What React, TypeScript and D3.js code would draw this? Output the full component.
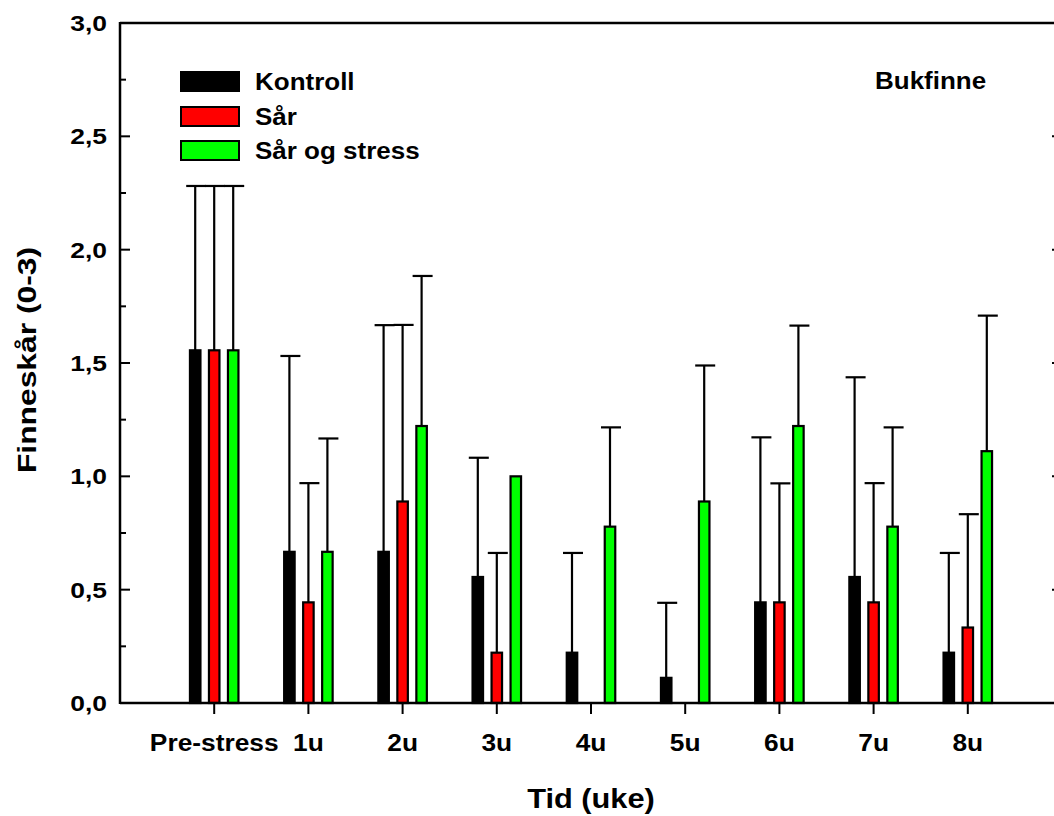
import React from "react";
import * as d3 from "d3";

// Fin score (0-3) for the pelvic fin over time, three treatment groups
const categories = ["Pre-stress", "1u", "2u", "3u", "4u", "5u", "6u", "7u", "8u"];
const seriesNames = ["Kontroll", "Sår", "Sår og stress"];

const kontroll = [1.556, 0.667, 0.667, 0.556, 0.222, 0.111, 0.444, 0.556, 0.222];
const kontrollSd = [0.725, 0.864, 1.0, 0.526, 0.44, 0.331, 0.728, 0.881, 0.44];

const sar = [1.556, 0.444, 0.889, 0.222, 0, 0, 0.444, 0.444, 0.333];
const sarSd = [0.725, 0.526, 0.779, 0.44, 0, 0, 0.525, 0.526, 0.5];

const sarStress = [1.556, 0.667, 1.222, 1.0, 0.778, 0.889, 1.222, 0.778, 1.111];
const sarStressSd = [0.725, 0.5, 0.662, 0, 0.438, 0.6, 0.443, 0.438, 0.598];

const yTicks = [0, 0.5, 1.0, 1.5, 2.0, 2.5, 3.0];
const yMinorTicks = [0.25, 0.75, 1.25, 1.75, 2.25, 2.75];

const panelLabel = "Bukfinne";
const xTitle = "Tid (uke)";
const yTitle = "Finneskår (0-3)";

const colors = ["#000000", "#ff0000", "#00ff00"];

const W = 1054;
const H = 816;
const left = 120;
const right = 1062;
const top = 23;
const bottom = 703;
const font = "'Liberation Sans', Arial, Helvetica, sans-serif";

export default function App() {
  const x = d3.scalePoint<string>().domain(categories).range([left, right]).padding(1);
  const y = d3.scaleLinear().domain([0, 3]).range([bottom, top]);
  const fmt = (v: number) => d3.format(".1f")(v).replace(".", ",");

  const series = [
    { name: seriesNames[0], values: kontroll, sd: kontrollSd, color: colors[0], offset: -19 },
    { name: seriesNames[1], values: sar, sd: sarSd, color: colors[1], offset: 0 },
    { name: seriesNames[2], values: sarStress, sd: sarStressSd, color: colors[2], offset: 19 },
  ];
  const barW = 10.5;
  const capW = 20;

  const stretched = (
    tx: number,
    ty: number,
    text: string,
    size: number,
    sx: number,
    anchor: "start" | "middle" | "end",
    rotate = 0
  ) => (
    <text
      transform={`translate(${tx},${ty}) rotate(${rotate}) scale(${sx},1)`}
      fontFamily={font}
      fontWeight="bold"
      fontSize={size}
      textAnchor={anchor}
      fill="#000"
    >
      {text}
    </text>
  );

  return (
    <svg
      width={W}
      height={H}
      style={{ position: "absolute", left: 0, top: 0, background: "#fff" }}
    >
      <rect width={W} height={H} fill="#fff" />

      {/* bars */}
      {series.map((s, si) =>
        categories.map((c, i) => {
          const v = s.values[i];
          if (v <= 0) return null;
          const cx = (x(c) as number) + s.offset;
          return (
            <rect
              key={`b${si}-${i}`}
              x={cx - barW / 2}
              y={y(v)}
              width={barW}
              height={y(0) - y(v)}
              fill={s.color}
              stroke="#000"
              strokeWidth={2.2}
            />
          );
        })
      )}

      {/* error bars (upper half only) */}
      {series.map((s, si) =>
        categories.map((c, i) => {
          const v = s.values[i];
          const e = s.sd[i];
          if (v <= 0 || e <= 0) return null;
          const cx = (x(c) as number) + s.offset;
          return (
            <g key={`e${si}-${i}`} stroke="#000" strokeWidth={2.2}>
              <line x1={cx} x2={cx} y1={y(v)} y2={y(v + e)} />
              <line x1={cx - capW / 2 + 1} x2={cx + capW / 2 + 1} y1={y(v + e)} y2={y(v + e)} />
            </g>
          );
        })
      )}

      {/* frame */}
      <g stroke="#000" strokeWidth={2.5} fill="none">
        <line x1={left} x2={left} y1={top - 1} y2={bottom + 1} />
        <line x1={left} x2={W + 10} y1={bottom} y2={bottom} />
        <line x1={left} x2={W + 10} y1={top} y2={top} />
        <line x1={right} x2={right} y1={top} y2={bottom} />
      </g>

      {/* y ticks, inward */}
      <g stroke="#000" strokeWidth={2}>
        {yTicks.map((t) => (
          <g key={`yt${t}`}>
            <line x1={left} x2={left + 10} y1={y(t)} y2={y(t)} />
            <line x1={right} x2={right - 10} y1={y(t)} y2={y(t)} />
          </g>
        ))}
        {yMinorTicks.map((t) => (
          <g key={`ym${t}`}>
            <line x1={left} x2={left + 6} y1={y(t)} y2={y(t)} />
            <line x1={right} x2={right - 6} y1={y(t)} y2={y(t)} />
          </g>
        ))}
      </g>
      {yTicks.map((t) => (
        <g key={`yl${t}`}>{stretched(107, y(t) + 8, fmt(t), 22, 1.2, "end")}</g>
      ))}

      {/* x ticks, outward */}
      <g stroke="#000" strokeWidth={2}>
        {categories.map((c) => (
          <line key={`xt${c}`} x1={x(c)} x2={x(c)} y1={bottom} y2={bottom + 11} />
        ))}
      </g>
      {categories.map((c) => (
        <g key={`xl${c}`}>{stretched(x(c) as number, 751, c, 23.5, 1.12, "middle")}</g>
      ))}

      {/* axis titles */}
      {stretched(591, 808, xTitle, 27.5, 1.12, "middle")}
      {stretched(36, 360, yTitle, 26.5, 1.2, "middle", -90)}

      {/* legend */}
      {series.map((s, i) => {
        const ly = [72, 107, 141][i];
        return (
          <g key={`lg${i}`}>
            <rect x={181} y={ly} width={58} height={19} fill={s.color} stroke="#000" strokeWidth={2} />
            {stretched(255, ly + 18, s.name, 23, 1.13, "start")}
          </g>
        );
      })}

      {/* panel label */}
      {stretched(875, 89, panelLabel, 23, 1.13, "start")}
    </svg>
  );
}
